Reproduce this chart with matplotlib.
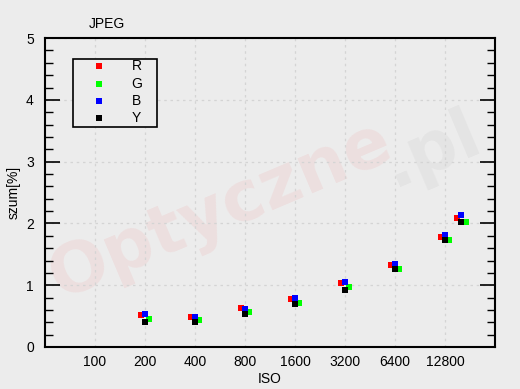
import numpy as np
import matplotlib
matplotlib.use("Agg")
import matplotlib.pyplot as plt
from matplotlib.ticker import MultipleLocator
from matplotlib.patches import Rectangle

plt.rcParams['font.family'] = ['Liberation Sans', 'DejaVu Sans']

# dane
iso_ticks = ['100', '200', '400', '800', '1600', '3200', '6400', '12800']
iso = np.array([200, 400, 800, 1600, 3200, 6400, 12800, 16000])
R = [0.52, 0.48, 0.63, 0.77, 1.03, 1.32, 1.78, 2.08]
G = [0.45, 0.43, 0.56, 0.72, 0.97, 1.27, 1.74, 2.03]
B = [0.53, 0.49, 0.61, 0.79, 1.05, 1.34, 1.81, 2.13]
Y = [0.40, 0.40, 0.53, 0.69, 0.93, 1.26, 1.73, 2.03]
names = ['R', 'G', 'B', 'Y']
colors = ['#ff0000', '#00ff00', '#0000ff', '#000000']

bg = '#ececec'
fig = plt.figure(figsize=(5.2, 3.89), dpi=100, facecolor=bg)
ax = fig.add_axes([0.0865, 0.108, 0.8655, 0.794])
ax.set_facecolor(bg)

x = np.log2(iso / 100) + 1

# znak wodny
ax.text(0.39, 0.44, 'Optyczne', transform=ax.transAxes, fontsize=50,
        fontweight='bold', color='#ff0000', alpha=0.055, rotation=23,
        ha='center', va='center', family='DejaVu Sans', zorder=0)
ax.text(0.86, 0.64, '.pl', transform=ax.transAxes, fontsize=50,
        fontweight='bold', color='#000000', alpha=0.035, rotation=23,
        ha='center', va='center', family='DejaVu Sans', zorder=0)

ms = 3.8
ax.plot(x - 0.087, R, 's', color=colors[0], ms=ms, mew=0, zorder=3)
ax.plot(x + 0.088, G, 's', color=colors[1], ms=ms, mew=0, zorder=3)
ax.plot(x, B, 's', color=colors[2], ms=ms, mew=0, zorder=4)
ax.plot(x, Y, 's', color=colors[3], ms=ms, mew=0, zorder=4)

ax.set_xlim(0, 9)
ax.set_ylim(0, 5)
ax.set_xticks(range(1, 9))
ax.set_xticklabels(iso_ticks)
ax.yaxis.set_major_locator(MultipleLocator(1))
ax.yaxis.set_minor_locator(MultipleLocator(0.2))
ax.tick_params(axis='x', length=0, pad=6, labelsize=10)
ax.tick_params(axis='y', which='major', direction='in', length=11, width=1.2,
               left=True, right=True, pad=8, labelsize=10)
ax.tick_params(axis='y', which='minor', direction='in', length=6, width=1,
               left=True, right=True)
ax.grid(True, which='major', color='#d4d4d4', linestyle=(0, (2, 3)), linewidth=0.9)
for s in ax.spines.values():
    s.set_linewidth(1.5)

ax.set_xlabel('ISO', fontsize=10, labelpad=2)
ax.set_ylabel('szum[%]', fontsize=10, labelpad=4)
fig.text(107 / 520, 1 - 24 / 389, 'JPEG', fontsize=10, ha='center', va='center')

# legenda rysowana recznie
ax.add_patch(Rectangle((0.063, 0.713), 0.185, 0.221, transform=ax.transAxes,
                       facecolor=bg, edgecolor='black', lw=1.2, zorder=5))
rows = [0.909, 0.853, 0.798, 0.743]
for n, c, ry in zip(names, colors, rows):
    ax.plot([0.121], [ry], 's', color=c, ms=ms, mew=0, transform=ax.transAxes,
            zorder=6, clip_on=False)
    ax.text(0.204, ry, n, transform=ax.transAxes, fontsize=10, ha='center',
            va='center', zorder=6)

fig.savefig('out.png', dpi=100, facecolor=bg)
